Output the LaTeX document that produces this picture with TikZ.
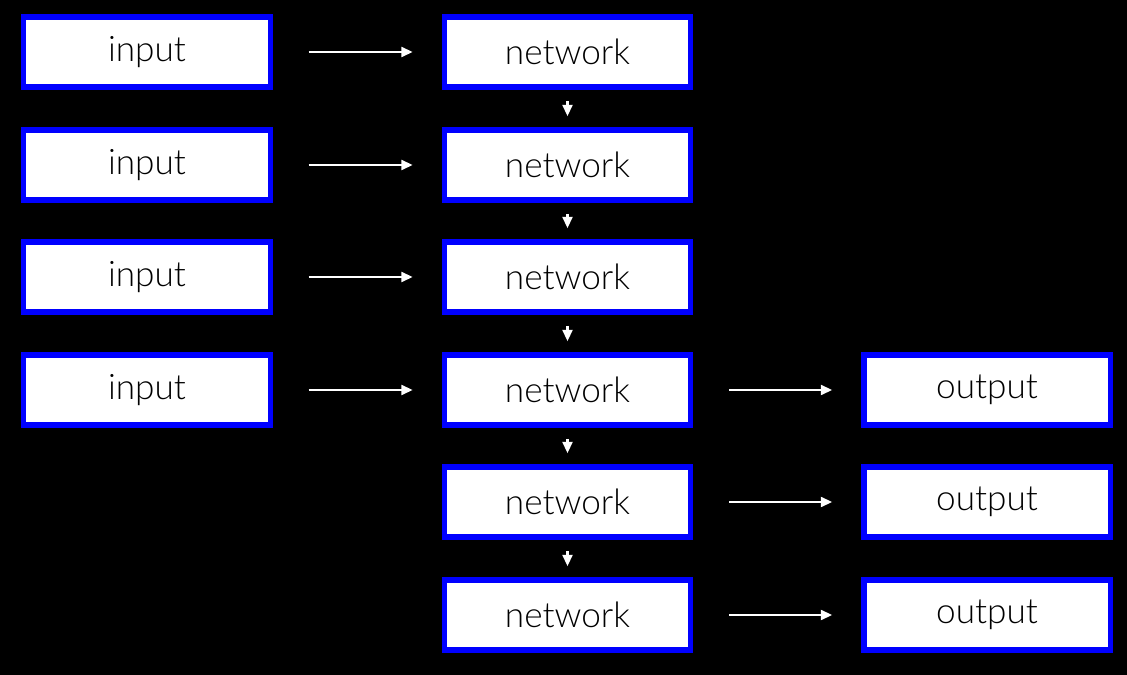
\documentclass[tikz,border=0pt]{standalone}
\usepackage{fontspec}
\setmainfont{Lato Light}[BoldFont=Lato]
\usetikzlibrary{arrows.meta}
\begin{document}
\begin{tikzpicture}
			[x=0.025cm,y=-0.025cm,
			%Styles
			box/.style={draw=blue,line width=3.6pt,fill=white,minimum width=6.15cm,minimum height=1.75cm,inner sep=0pt,font=\fontsize{25}{28}\selectfont},
			flow/.style={draw=white,line width=1.6pt,-{Triangle[length=8pt,width=7pt]},shorten >=16\pgflinewidth}
			]
			
			\fill[black] (0,0) rectangle (1127,675);
			
			%The graphic
			\foreach \i/\y in {1/52,2/165,3/277,4/390,5/502,6/615} {
				\node[box] (net\i) at (567.5,\y) {network};
			}
			\foreach \i/\y in {1/52,2/165,3/277,4/390} {
				\node[box] (in\i) at (147,\y) {input};
				\draw[flow,shorten <=16\pgflinewidth,shorten >=13\pgflinewidth] (in\i) -- (net\i);
			}
			\foreach \i/\y in {4/390,5/502,6/615} {
				\node[box] (out\i) at (987,\y) {output};
				\draw[flow,shorten <=16\pgflinewidth,shorten >=13\pgflinewidth] (net\i) -- (out\i);
			}
			\foreach \i [evaluate=\i as \j using int(\i+1)] in {1,...,5} {
				\draw[flow,shorten <=8pt,shorten >=8pt] (net\i) -- (net\j);
			}
		\end{tikzpicture}
\end{document}
